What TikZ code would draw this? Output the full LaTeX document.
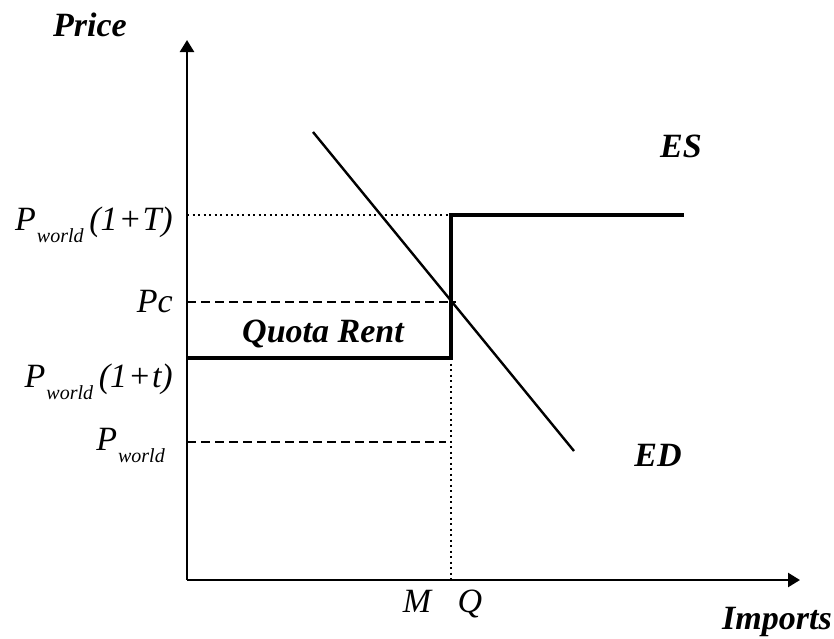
\documentclass[tikz,border=0pt]{standalone}
\usepackage{fontspec}
\setmainfont{Liberation Serif}
\usetikzlibrary{arrows.meta}

% P with the small lowered "world"
\newcommand{\Pw}{\textit{P}\kern1pt\raisebox{-0.38em}{\fontsize{20}{20}\selectfont\textit{world}}}

\begin{document}
\begin{tikzpicture}[
  x=1pt,y=-1pt,
  lab/.style={font=\fontsize{34}{34}\selectfont\itshape,inner sep=0pt},
  blab/.style={font=\fontsize{34}{34}\selectfont\bfseries\itshape,inner sep=0pt},
  axis/.style={line width=2.4pt,-{Triangle[length=12pt,width=14pt]}},
  supply/.style={line width=4pt},
  demand/.style={line width=2.4pt},
  dotline/.style={line width=2.2pt,dash pattern=on 2pt off 3.5pt},
  dashline/.style={line width=2pt,dash pattern=on 9pt off 5pt}
]
\useasboundingbox (0,0) rectangle (834,638);
% axes
\coordinate (O) at (187,580);
\coordinate (ytop) at (187,40);
\coordinate (xend) at (800,580);
\draw[axis] (O)--(ytop);
\draw[axis] (O)--(xend);
% guide lines
\coordinate (hT) at (187,215);
\coordinate (hPc) at (187,302);
\coordinate (hW) at (187,442);
\coordinate (kT) at (451,215);
\coordinate (kPc) at (456,302);
\coordinate (kW) at (446,442);
\coordinate (kt) at (451,358);
\coordinate (kx) at (451,580);
\draw[dotline] (hT)--(kT);
\draw[dashline] (hPc)--(kPc);
\draw[dashline] (hW)--(kW);
\draw[dotline] (kt)--(kx);
% excess supply with the quota
\coordinate (st) at (187,358);
\coordinate (send) at (684,215);
\draw[supply] (st)--(kt)--(kT)--(send);
% excess demand
\coordinate (dtop) at (313,132);
\coordinate (dbot) at (574,451);
\draw[demand] (dtop)--(dbot);
% labels
\node[blab,anchor=base] (price) at (90,36) {Price};
\node[blab,anchor=base] (imports) at (777,629) {Imports};
\node[blab,anchor=base] (es) at (681,157) {ES};
\node[blab,anchor=base] (ed) at (658,466) {ED};
\node[blab,anchor=base] (rent) at (323,342) {Quota Rent};
\node[lab,anchor=base east] (pT) at (173,230) {\Pw\,(1\kern1pt+\kern1pt\textit{T})};
\node[lab,anchor=base east] (pc) at (173,312) {Pc};
\node[lab,anchor=base east] (pt) at (173,387) {\Pw\,(1\kern1pt+\kern1pt\textit{t})};
\node[lab,anchor=base east] (pw) at (165,450) {\Pw};
\node[lab,anchor=base] (m) at (417,612) {M};
\node[lab,anchor=base] (q) at (470,612) {Q};
\end{tikzpicture}
\end{document}
